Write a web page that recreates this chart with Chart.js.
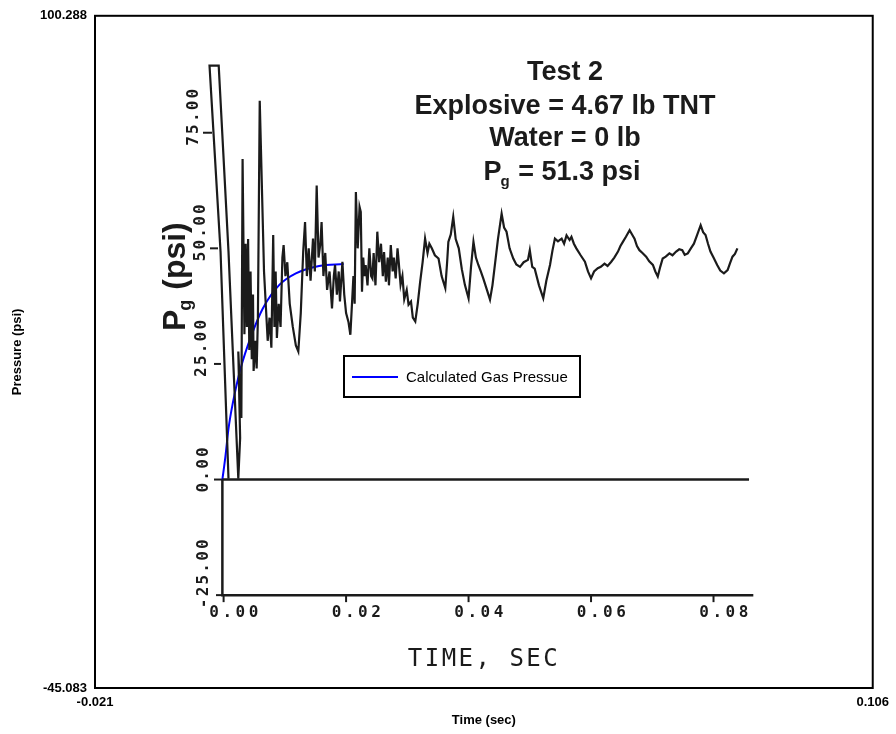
<!DOCTYPE html>
<html lang="en">
  <head>
    <meta charset="UTF-8" />
    <title>Test 2 - Gas Pressure</title>
    <script src="https://cdn.jsdelivr.net/npm/chart.js"></script>
    <style>
      body { margin: 0; background: #fff; }
      #wrap { width: 896px; height: 734px; }
    </style>
  </head>
  <body>
    <div id="wrap"><canvas id="myChart" width="896" height="734"></canvas></div>

    <script>
      // outer axis limits
      const xLimits = [-0.021, 0.106];
      const yLimits = [-45.083, 100.288];

      // measured pressure trace
      const measuredTime = [
        0.0008, -0.0005, -0.0023, -0.0008, 0.0008, 0.0024, 0.0027, 0.0024, 0.0029, 0.0031,
        0.0034, 0.0036, 0.0038, 0.0040, 0.0042, 0.0044, 0.0046, 0.0048, 0.0049, 0.0052,
        0.0054, 0.0056, 0.0059, 0.0066, 0.0072, 0.0075, 0.0078, 0.0081, 0.0083, 0.0085,
        0.0087, 0.0090, 0.0093, 0.0096, 0.0098, 0.0101, 0.0104, 0.0108, 0.0113, 0.0118,
        0.0122, 0.0126, 0.0130, 0.0133, 0.0136, 0.0139, 0.0142, 0.0146, 0.0149, 0.0152,
        0.0155, 0.0158, 0.0160, 0.0163, 0.0166, 0.0169, 0.0173, 0.0177, 0.0180, 0.0182,
        0.0185, 0.0188, 0.0190, 0.0194, 0.0197, 0.0200, 0.0204, 0.0207, 0.0212, 0.0214,
        0.0216, 0.0219, 0.0222, 0.0224, 0.0226, 0.0228, 0.0230, 0.0232, 0.0235, 0.0238,
        0.0241, 0.0243, 0.0245, 0.0248, 0.0251, 0.0254, 0.0257, 0.0260, 0.0262, 0.0265,
        0.0268, 0.0270, 0.0273, 0.0276, 0.0278, 0.0281, 0.0284, 0.0286, 0.0289, 0.0292,
        0.0295, 0.0299, 0.0302, 0.0306, 0.0309, 0.0313, 0.0317, 0.0321, 0.0325, 0.0329,
        0.0333, 0.0336, 0.0340, 0.0345, 0.0351, 0.0356, 0.0362, 0.0365, 0.0367, 0.0371,
        0.0375, 0.0379, 0.0384, 0.0389, 0.0394, 0.0400, 0.0404, 0.0408, 0.0412, 0.0416,
        0.0420, 0.0424, 0.0430, 0.0435, 0.0439, 0.0443, 0.0448, 0.0454, 0.0458, 0.0462,
        0.0467, 0.0473, 0.0478, 0.0484, 0.0490, 0.0497, 0.0500, 0.0504, 0.0508, 0.0515,
        0.0522, 0.0527, 0.0533, 0.0537, 0.0541, 0.0546, 0.0552, 0.0556, 0.0560, 0.0565,
        0.0568, 0.0572, 0.0576, 0.0583, 0.0590, 0.0595, 0.0600, 0.0605, 0.0611, 0.0616,
        0.0622, 0.0627, 0.0633, 0.0638, 0.0644, 0.0648, 0.0652, 0.0657, 0.0663, 0.0667,
        0.0671, 0.0675, 0.0679, 0.0684, 0.0690, 0.0695, 0.0701, 0.0705, 0.0709, 0.0713,
        0.0717, 0.0722, 0.0728, 0.0733, 0.0739, 0.0744, 0.0749, 0.0753, 0.0758, 0.0763,
        0.0768, 0.0773, 0.0779, 0.0783, 0.0787, 0.0791, 0.0795, 0.0800, 0.0806, 0.0811,
        0.0817, 0.0823, 0.0827, 0.0831, 0.0835, 0.0839
      ];
      const measuredPressure = [
        0.2, 49.3, 89.5, 89.5, 49.3, 0.2, 9.0, 27.7, 13.3, 69.3,
        31.4, 51.0, 33.0, 52.0, 28.0, 45.0, 26.0, 40.0, 23.5, 30.0,
        24.0, 34.8, 81.9, 45.0, 30.0, 35.0, 28.5, 52.9, 33.0, 45.0,
        30.6, 38.0, 33.0, 48.0, 50.7, 44.0, 47.0, 38.0, 33.0, 29.0,
        27.7, 36.0, 49.3, 55.7, 44.0, 50.0, 43.0, 52.1, 45.0, 63.6,
        48.0, 51.0, 55.7, 44.0, 49.0, 41.0, 45.0, 37.0, 44.0, 46.4,
        40.0, 45.0, 38.5, 47.1, 40.0, 36.0, 34.0, 31.3, 44.0, 38.0,
        62.2, 50.0, 59.0, 57.9, 40.6, 48.0, 44.0, 46.4, 42.0, 50.0,
        44.0, 43.5, 49.0, 42.0, 53.6, 47.0, 51.0, 44.0, 49.2, 42.8,
        48.0, 42.0, 50.7, 45.0, 48.0, 43.5, 50.0, 47.0, 42.1, 44.0,
        39.0, 41.0, 37.8, 38.5, 35.0, 34.2, 38.0, 42.8, 47.0, 52.1,
        49.0, 51.0, 50.0, 48.5, 47.8, 44.0, 41.4, 47.0, 51.4, 53.0,
        56.8, 52.0, 50.0, 45.5, 42.1, 39.2, 46.0, 51.4, 48.0, 46.4,
        45.0, 43.5, 41.0, 38.9, 42.0, 46.4, 52.0, 57.5, 54.5, 53.6,
        50.0, 47.8, 46.5, 46.0, 47.0, 47.5, 49.6, 46.0, 45.6, 42.0,
        39.2, 43.0, 46.4, 49.5, 52.1, 51.5, 52.1, 51.0, 52.8, 51.8,
        52.5, 51.0, 50.0, 48.5, 47.1, 45.0, 43.5, 45.0, 45.7, 46.0,
        46.7, 46.2, 47.1, 48.0, 49.3, 50.5, 51.4, 52.5, 53.9, 53.0,
        52.1, 50.5, 49.6, 49.0, 48.2, 47.2, 46.4, 45.0, 43.9, 46.0,
        47.8, 48.2, 48.9, 48.5, 49.3, 49.8, 49.6, 48.6, 48.9, 50.0,
        51.0, 52.8, 55.0, 53.5, 52.9, 51.0, 49.3, 48.0, 46.4, 45.2,
        44.6, 45.3, 46.8, 48.2, 48.8, 50.0
      ];

      // calculated gas pressure (blue curve)
      const calcTime = [-0.0002, 0.0003, 0.0008, 0.0015, 0.0028, 0.0045, 0.0064, 0.0091, 0.0118, 0.0156, 0.0196];
      const calcPressure = [0, 5.0, 11.0, 16.5, 24.1, 31.0, 37.0, 42.1, 44.6, 46.2, 46.6];

      // frame of the scanned plot
      const baselineTime = [-0.0002, 0.0858];
      const baselinePressure = [0, 0];
      const scanAxisTime = [-0.0002, -0.0002, 0.0865];
      const scanAxisPressure = [0, -25, -25];
      const scanXTicks = [0, 0.02, 0.04, 0.06, 0.08];
      const scanXTickLabels = ["0.00", "0.02", "0.04", "0.06", "0.08"];
      const scanYTicks = [-25, 0, 25, 50, 75];
      const scanYTickLabels = ["-25.00", "0.00", "25.00", "50.00", "75.00"];

      const noteLines = ["Test 2", "Explosive = 4.67 lb TNT", "Water = 0 lb"];
      const legendText = "Calculated Gas Pressue";

      function pares(xs, ys) {
        return xs.map(function (x, i) { return { x: x, y: ys[i] }; });
      }

      const inkColor = "#1b1b1b";

      // texts and small marks of the scanned figure
      const scanPlugin = {
        id: "scanPlugin",
        beforeDatasetsDraw(chart) {
          const ctx = chart.ctx;
          const sx = chart.scales.x, sy = chart.scales.y;
          ctx.save();
          ctx.strokeStyle = inkColor;
          ctx.lineWidth = 2;
          // y ticks of the scan (the scan is a bit skewed)
          const tickLeft = { "-25": 216, "0": 214, "25": 214, "50": 210, "75": 203 };
          const tickRight = { "-25": 223, "0": 223, "25": 221, "50": 218, "75": 212 };
          scanYTicks.forEach(function (t) {
            const py = sy.getPixelForValue(t);
            ctx.beginPath();
            ctx.moveTo(tickLeft[t], py);
            ctx.lineTo(tickRight[t], py);
            ctx.stroke();
          });
          // x ticks hanging below the axis
          scanXTicks.forEach(function (t) {
            const px = sx.getPixelForValue(t);
            const py = sy.getPixelForValue(-25);
            ctx.beginPath();
            ctx.moveTo(px, py);
            ctx.lineTo(px, py + 7);
            ctx.stroke();
          });
          ctx.restore();
        },
        afterDatasetsDraw(chart) {
          const ctx = chart.ctx;
          const sx = chart.scales.x, sy = chart.scales.y;
          const area = chart.chartArea;
          ctx.save();

          // outer frame
          ctx.strokeStyle = "#000";
          ctx.lineWidth = 2;
          ctx.strokeRect(area.left, area.top, area.right - area.left, area.bottom - area.top);

          ctx.fillStyle = inkColor;

          // x tick labels of the scan
          ctx.font = "bold 16px 'DejaVu Sans Mono'";
          ctx.letterSpacing = "3.5px";
          ctx.textAlign = "center";
          ctx.textBaseline = "middle";
          scanXTicks.forEach(function (t, i) {
            ctx.fillText(scanXTickLabels[i], sx.getPixelForValue(t) + 12, 613);
          });

          // y tick labels of the scan, rotated
          ctx.letterSpacing = "2.2px";
          const labelX = { "-25": 204, "0": 204, "25": 202, "50": 201, "75": 194 };
          scanYTicks.forEach(function (t, i) {
            ctx.save();
            ctx.translate(labelX[t], sy.getPixelForValue(t) + 13);
            ctx.rotate(-Math.PI / 2);
            ctx.textAlign = "left";
            ctx.fillText(scanYTickLabels[i], 0, 0);
            ctx.restore();
          });

          // TIME, SEC
          ctx.font = "24px 'DejaVu Sans Mono'";
          ctx.letterSpacing = "2.5px";
          ctx.textAlign = "center";
          ctx.fillText("TIME, SEC", 484, 660);
          ctx.letterSpacing = "0px";

          // Pg (psi) rotated
          ctx.save();
          ctx.translate(185, 331);
          ctx.rotate(-Math.PI / 2);
          ctx.textAlign = "left";
          ctx.textBaseline = "alphabetic";
          ctx.font = "bold 32px 'Liberation Sans'";
          ctx.fillText("P", 0, 0);
          let w = ctx.measureText("P").width;
          ctx.font = "bold 18px 'Liberation Sans'";
          ctx.fillText("g", w - 1, 6);
          w += ctx.measureText("g").width;
          ctx.font = "bold 32px 'Liberation Sans'";
          ctx.fillText(" (psi)", w, 0);
          ctx.restore();

          // test notes
          ctx.font = "bold 27px 'Liberation Sans'";
          ctx.textAlign = "center";
          ctx.textBaseline = "alphabetic";
          const noteY = [80, 114, 146];
          noteLines.forEach(function (s, i) {
            ctx.fillText(s, 565, noteY[i]);
          });
          // Pg = 51.3 psi with subscript
          ctx.textAlign = "left";
          const restText = " = 51.3 psi";
          ctx.font = "bold 27px 'Liberation Sans'";
          const wP = ctx.measureText("P").width;
          const wRest = ctx.measureText(restText).width;
          ctx.font = "bold 15px 'Liberation Sans'";
          const wg = ctx.measureText("g").width;
          let x0 = 562 - (wP + wg + wRest) / 2;
          ctx.font = "bold 27px 'Liberation Sans'";
          ctx.fillText("P", x0, 180);
          ctx.font = "bold 15px 'Liberation Sans'";
          ctx.fillText("g", x0 + wP - 1, 186);
          ctx.font = "bold 27px 'Liberation Sans'";
          ctx.fillText(restText, x0 + wP + wg, 180);

          // legend box
          ctx.fillStyle = "#fff";
          ctx.fillRect(344, 356, 236, 41);
          ctx.strokeStyle = "#000";
          ctx.lineWidth = 2;
          ctx.strokeRect(344, 356, 236, 41);
          ctx.strokeStyle = "#0000ff";
          ctx.beginPath();
          ctx.moveTo(352, 377);
          ctx.lineTo(398, 377);
          ctx.stroke();
          ctx.fillStyle = "#000";
          ctx.font = "15px 'Liberation Sans'";
          ctx.textBaseline = "middle";
          ctx.fillText(legendText, 406, 378);

          ctx.restore();
        }
      };

      const config = {
        type: "scatter",
        data: {
          datasets: [
            {
              label: "Scan axis",
              data: pares(scanAxisTime, scanAxisPressure),
              showLine: true,
              borderColor: inkColor,
              borderWidth: 2.5,
              pointRadius: 0,
            },
            {
              label: "Baseline",
              data: pares(baselineTime, baselinePressure),
              showLine: true,
              borderColor: inkColor,
              borderWidth: 2.5,
              pointRadius: 0,
            },
            {
              label: "Measured",
              data: pares(measuredTime, measuredPressure),
              showLine: true,
              borderColor: inkColor,
              borderWidth: 2.2,
              pointRadius: 0,
              tension: 0,
            },
            {
              label: legendText,
              data: pares(calcTime, calcPressure),
              showLine: true,
              borderColor: "#0000ff",
              borderWidth: 2,
              pointRadius: 0,
              cubicInterpolationMode: "monotone",
            },
          ],
        },
        options: {
          responsive: false,
          animation: false,
          layout: { padding: { top: 13, right: 20, left: 0, bottom: 0 } },
          plugins: { legend: { display: false }, tooltip: { enabled: false } },
          scales: {
            x: {
              type: "linear",
              min: xLimits[0],
              max: xLimits[1],
              afterBuildTicks: function (s) { s.ticks = [{ value: xLimits[0] }, { value: xLimits[1] }]; },
              afterFit: function (s) { s.height = 46; },
              grid: { display: false, drawTicks: false },
              border: { display: false },
              ticks: {
                padding: 7,
                maxRotation: 0,
                autoSkip: false,
                color: "#000",
                font: { family: "'Liberation Sans'", size: 13, weight: "bold" },
                callback: function (v) { return v.toFixed(3); },
              },
              title: {
                display: true,
                text: "Time (sec)",
                color: "#000",
                font: { family: "'Liberation Sans'", size: 13, weight: "bold" },
                padding: { top: 0, bottom: 6 },
              },
            },
            y: {
              type: "linear",
              min: yLimits[0],
              max: yLimits[1],
              afterBuildTicks: function (s) { s.ticks = [{ value: yLimits[0] }, { value: yLimits[1] }]; },
              afterFit: function (s) { s.width = 95; },
              grid: { display: false, drawTicks: false },
              border: { display: false },
              ticks: {
                padding: 8,
                autoSkip: false,
                color: "#000",
                font: { family: "'Liberation Sans'", size: 13, weight: "bold" },
                callback: function (v) { return v.toFixed(3); },
              },
              title: {
                display: true,
                text: "Pressure (psi)",
                color: "#000",
                font: { family: "'Liberation Sans'", size: 13, weight: "bold" },
                padding: { top: 10, bottom: 0 },
              },
            },
          },
        },
        plugins: [scanPlugin],
      };

      var myChart = new Chart(document.getElementById("myChart"), config);
    </script>
  </body>
</html>
